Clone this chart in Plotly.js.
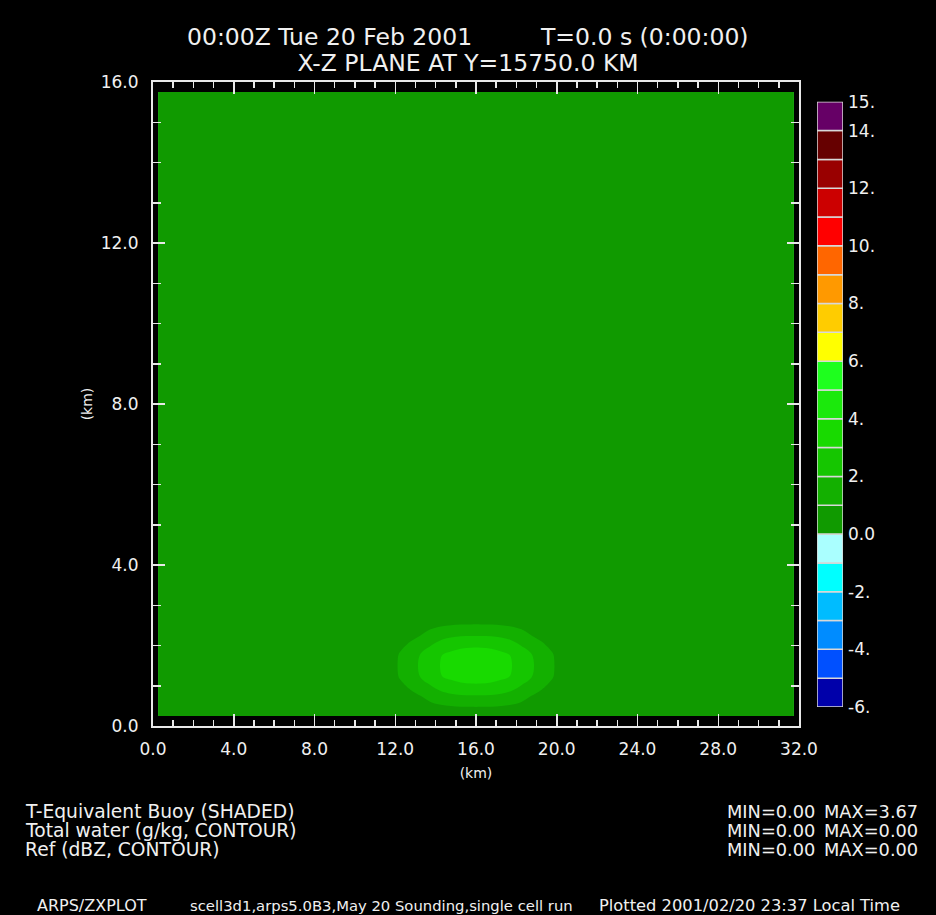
<!DOCTYPE html>
<html>
<head>
<meta charset="utf-8">
<script src="https://cdn.plot.ly/plotly-3.0.1.min.js"></script>
<style>
html,body{margin:0;padding:0;background:#000;}
#chart{width:936px;height:915px;}
</style>
</head>
<body>
<div id="chart"></div>
<script>
// ---- data ----
const xKm = [0.25, 10.75, 11.25, 11.75, 12.25, 12.75, 13.25, 13.75, 14.25, 14.75, 15.25, 15.75,
             16.25, 16.75, 17.25, 17.75, 18.25, 18.75, 19.25, 19.75, 20.25, 20.75, 21.25, 31.75];
const zKm = [0.25, 0.75, 1.25, 1.75, 2.25, 2.75, 3.25, 15.75];
const buoyancy = [
  [0,0,0,0,0,0,0.03,0.08,0.13,0.18,0.21,0.22,0.22,0.21,0.18,0.13,0.08,0.03,0,0,0,0,0,0],
  [0,0,0.08,0.30,0.60,0.76,1.00,1.40,1.70,1.85,1.93,1.95,1.95,1.93,1.85,1.70,1.40,1.00,0.76,0.60,0.30,0.08,0,0],
  [0,0.02,0.20,0.60,1.10,1.55,2.07,2.55,2.96,3.30,3.55,3.67,3.67,3.55,3.30,2.96,2.55,2.07,1.55,1.10,0.60,0.20,0.02,0],
  [0,0.02,0.20,0.60,1.10,1.55,2.07,2.55,2.96,3.30,3.55,3.67,3.67,3.55,3.30,2.96,2.55,2.07,1.55,1.10,0.60,0.20,0.02,0],
  [0,0,0.08,0.30,0.60,0.76,1.00,1.40,1.70,1.85,1.93,1.95,1.95,1.93,1.85,1.70,1.40,1.00,0.76,0.60,0.30,0.08,0,0],
  [0,0,0,0,0,0,0.03,0.08,0.13,0.18,0.21,0.22,0.22,0.21,0.18,0.13,0.08,0.03,0,0,0,0,0,0],
  [0,0,0,0,0,0,0,0,0,0,0,0,0,0,0,0,0,0,0,0,0,0,0,0],
  [0,0,0,0,0,0,0,0,0,0,0,0,0,0,0,0,0,0,0,0,0,0,0,0]
];
// colour bands, one per unit from -6 to 15
const bandBase   = [-6,-5,-4,-3,-2,-1,0,1,2,3,4,5,6,7,8,9,10,11,12,13,14];
const bandHeight = [1,1,1,1,1,1,1,1,1,1,1,1,1,1,1,1,1,1,1,1,1];
const bandColors = ['#0000aa','#0050ff','#008cff','#00bcff','#00ffff','#aaffff',
                    '#109a00','#13b000','#15c600','#18da00','#1be90c','#1eff1e',
                    '#ffff00','#ffcc00','#ff9900','#ff6600','#ff0000','#cc0000',
                    '#990000','#660000','#660066'];
const cbTickVals = [15,14,12,10,8,6,4,2,0,-2,-4,-6];
const cbTickText = ['15.','14.','12.','10.','8.','6.','4.','2.','0.0','-2.','-4.','-6.'];

// ---- layout helpers ----
const W = 936, H = 915;
const px = v => v / W;
const py = v => 1 - v / H;
const FONT = 'DejaVu Sans';
const FG = '#f0f0f0';

const colorscale = bandColors.map((c, i) => [i / (bandColors.length - 1), c]);

const contour = {
  type: 'contour',
  x: xKm, y: zKm, z: buoyancy,
  colorscale: colorscale,
  showscale: false,
  contours: {coloring: 'fill', start: -5.0001, end: 13.9999, size: 1, showlines: false},
  line: {width: 0},
  hoverinfo: 'skip',
  xaxis: 'x', yaxis: 'y'
};

const colorBar = {
  type: 'bar',
  x: bandBase.map(() => 0),
  y: bandHeight,
  base: bandBase,
  width: 1,
  marker: {color: bandColors, line: {color: '#d8d8d8', width: 1.5}},
  cliponaxis: false,
  hoverinfo: 'skip',
  xaxis: 'x2', yaxis: 'y2',
  showlegend: false
};

const axisCommon = {
  showgrid: false, zeroline: false,
  showline: true, linecolor: '#e8e8e8', linewidth: 2, mirror: 'allticks',
  ticks: 'inside', tickcolor: '#e8e8e8', tickwidth: 1.5,
  tickfont: {family: FONT, size: 17, color: FG},
  tickformat: '.1f'
};

const ann = (text, x, y, xanchor, size) => ({
  text: text, xref: 'paper', yref: 'paper', x: px(x), y: py(y),
  xanchor: xanchor, yanchor: 'middle', showarrow: false,
  font: {family: FONT, size: size, color: FG}
});

const layout = {
  width: W, height: H,
  margin: {l: 0, r: 0, t: 0, b: 0},
  paper_bgcolor: '#000', plot_bgcolor: '#000',
  showlegend: false,
  barmode: 'overlay',
  title: {
    text: 'X-Z PLANE AT Y=15750.0 KM',
    font: {family: FONT, size: 23.5, color: FG},
    x: px(468), xanchor: 'center', y: py(63), yanchor: 'middle',
    xref: 'paper', yref: 'paper'
  },
  xaxis: Object.assign({}, axisCommon, {
    domain: [px(153), px(799)], range: [0, 32], dtick: 4, tick0: 0, ticklen: 12,
    minor: {dtick: 1, ticks: 'inside', ticklen: 6, tickcolor: '#e8e8e8', tickwidth: 1.5, showgrid: false},
    ticklabelstandoff: 7,
    anchor: 'y',
    title: {text: '(km)', font: {family: FONT, size: 14, color: FG}, standoff: 10}
  }),
  yaxis: Object.assign({}, axisCommon, {
    domain: [py(726), py(82)], range: [0, 16], dtick: 4, tick0: 0, ticklen: 12,
    minor: {dtick: 1, ticks: 'inside', ticklen: 8, tickcolor: '#e8e8e8', tickwidth: 1.5, showgrid: false},
    ticklabelstandoff: 9,
    anchor: 'x',
    title: {text: '(km)', font: {family: FONT, size: 14, color: FG}, standoff: 5}
  }),
  xaxis2: {
    domain: [px(817), px(843)], range: [-0.5, 0.5], visible: false, anchor: 'y2', fixedrange: true
  },
  yaxis2: {
    domain: [py(707), py(101.75)], range: [-6, 15], anchor: 'x2', side: 'right',
    showgrid: false, zeroline: false, showline: false, ticks: '',
    tickvals: cbTickVals, ticktext: cbTickText, ticklabelstandoff: 4,
    tickfont: {family: FONT, size: 17, color: FG}, fixedrange: true
  },
  annotations: [
    ann('00:00Z Tue 20 Feb 2001', 185, 37, 'left', 23.5),
    ann('T=0.0 s (0:00:00)', 538, 37, 'left', 23.5),
    ann('T-Equivalent Buoy (SHADED)', 23, 811, 'left', 18.7),
    ann('Total water (g/kg, CONTOUR)', 23, 830, 'left', 18.7),
    ann('Ref (dBZ, CONTOUR)', 23, 849, 'left', 18.7),
    ann('MIN=0.00', 725, 811, 'left', 17.8),
    ann('MAX=3.67', 822, 811, 'left', 17.8),
    ann('MIN=0.00', 725, 830, 'left', 17.8),
    ann('MAX=0.00', 822, 830, 'left', 17.8),
    ann('MIN=0.00', 725, 849, 'left', 17.8),
    ann('MAX=0.00', 822, 849, 'left', 17.8),
    ann('ARPS/ZXPLOT', 35, 905, 'left', 16),
    ann('scell3d1,arps5.0B3,May 20 Sounding,single cell run', 188, 905, 'left', 14.8),
    ann('Plotted 2001/02/20 23:37 Local Time', 597, 905, 'left', 16.3)
  ]
};

Plotly.newPlot('chart', [contour, colorBar], layout, {staticPlot: true, displayModeBar: false});
</script>
</body>
</html>
